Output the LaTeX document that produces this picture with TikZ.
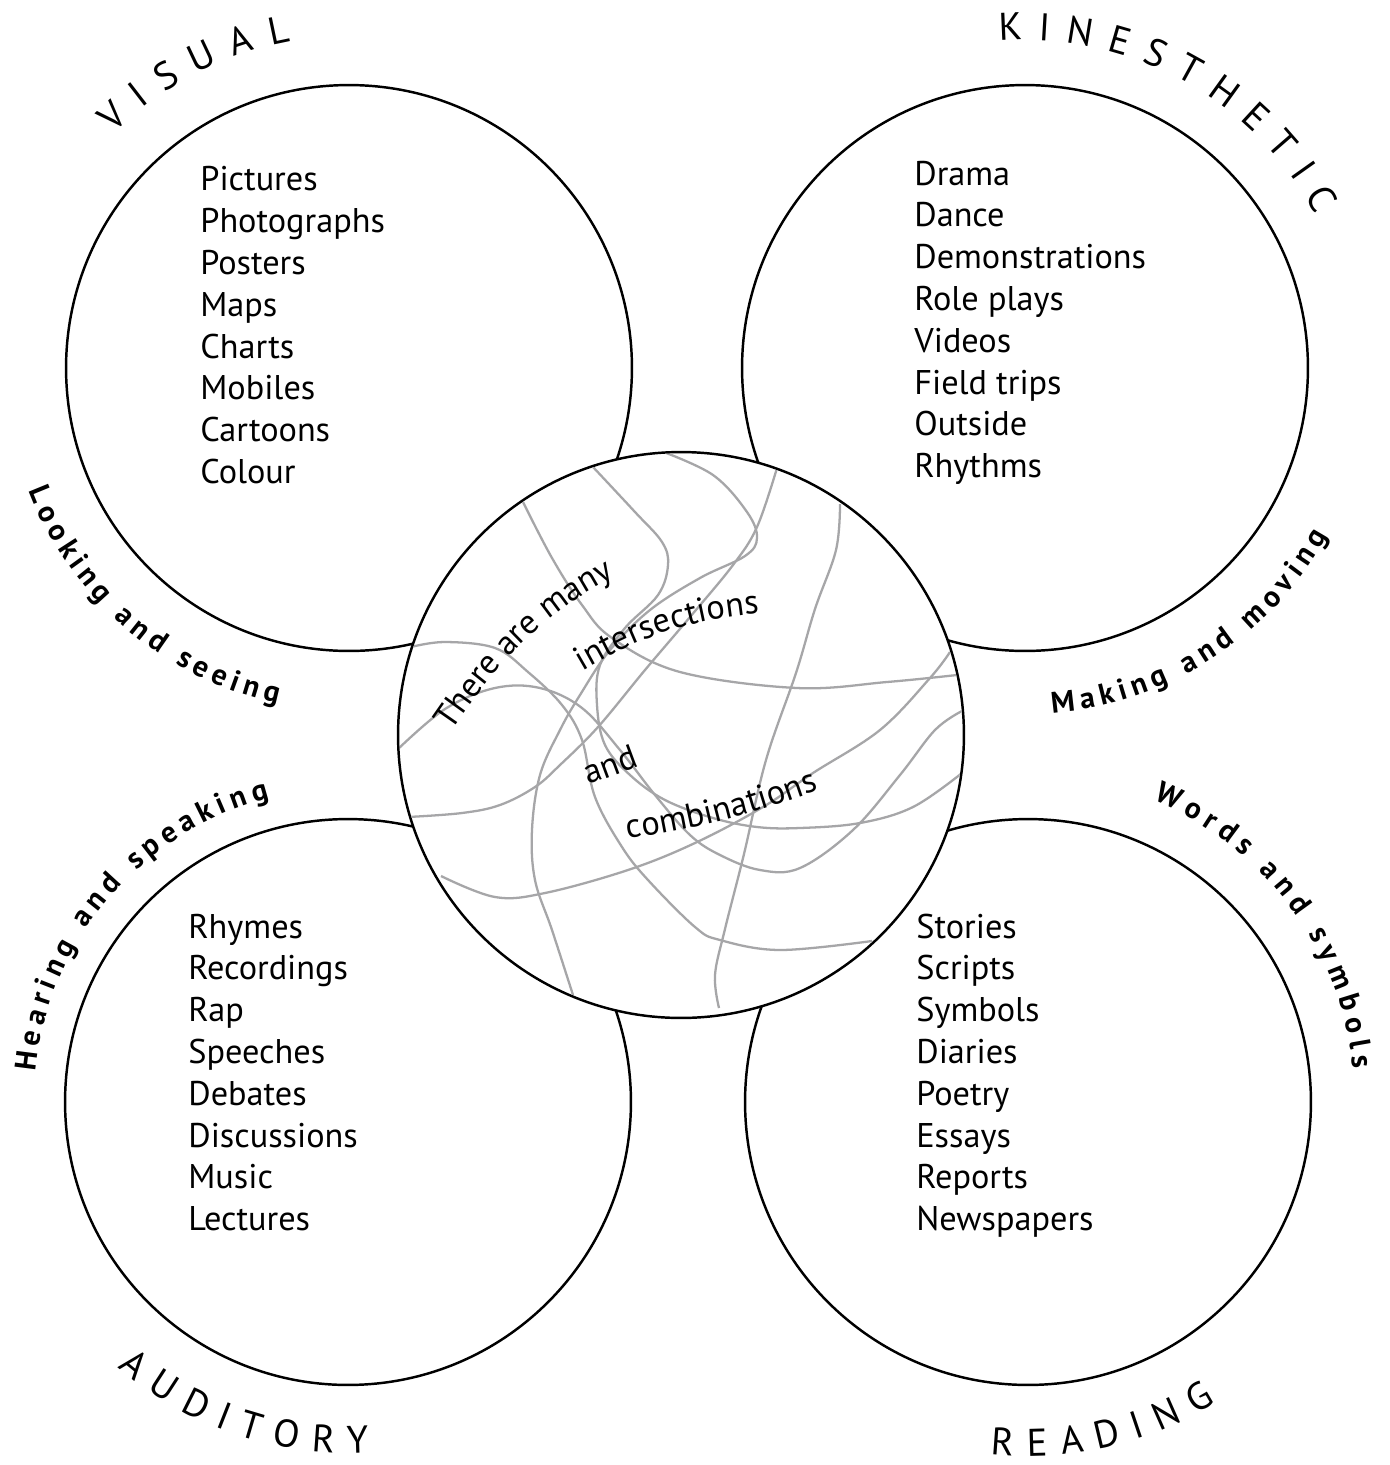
\documentclass[tikz,border=0pt]{standalone}
\usepackage{fontspec}
\setmainfont{PT Sans}
\usetikzlibrary{decorations.text}
\definecolor{wiregray}{RGB}{166,166,168}
\newcommand\ttlfnt{\fontsize{22}{26}\selectfont}
\newcommand\subfnt{\bfseries\fontsize{17}{20}\selectfont}
\newcommand\itemfnt{\fontsize{19.5}{23}\selectfont}
\tikzset{
  ring/.style={circle, draw, line width=1.4pt, minimum size=11.32cm, inner sep=0pt},
  item/.style={anchor=base west, inner sep=0pt, font=\itemfnt},
  wire/.style={draw=wiregray, line width=1.3pt},
  arctext/.style={decorate, decoration={text along path, text align=fit to path, text={#1}}},
  midtext/.style={decorate, decoration={text along path, text align=center, text={|\itemfnt|#1}}}
}

\begin{document}
\begin{tikzpicture}[x=0.02cm, y=0.02cm]
\useasboundingbox (0,0) rectangle (1390,-1465);
\node[ring] (vis) at (349,-368) {};
\node[ring] (kin) at (1025,-368) {};
\node[ring] (aud) at (348,-1102) {};
\node[ring] (rea) at (1028,-1102) {};
\node[ring, fill=white] (mid) at (681,-735) {};

\begin{scope}
\clip (mid.center) circle (281.5);
\draw[wire] plot[smooth, tension=0.6] coordinates {(523,-502) (552,-558) (582,-605) (612,-638) (680,-672) (797,-688) (887,-682) (957,-675)};
\draw[wire] plot[smooth, tension=0.6] coordinates {(593,-467) (635,-512) (662,-542) (668,-565) (658,-595) (625,-628) (600,-665) (597,-705) (605,-745) (630,-775) (665,-800) (713,-818) (757,-827) (800,-828) (860,-823) (913,-807) (962,-773)};
\draw[wire] plot[smooth, tension=0.6] coordinates {(661,-451) (713,-475) (747,-512) (757,-538) (745,-556) (700,-578) (650,-610) (610,-650) (580,-695) (560,-730) (540,-775) (532,-830) (535,-880) (552,-930) (573,-995)};
\draw[wire] plot[smooth, tension=0.6] coordinates {(777,-468) (757,-527) (733,-565) (690,-617) (645,-670) (598,-727) (560,-765) (535,-787) (500,-805) (462,-813) (408,-817)};
\draw[wire] plot[smooth, tension=0.6] coordinates {(840,-504) (836,-550) (815,-609) (796,-673) (766,-760) (744,-854) (725,-929) (715,-975) (719,-1008)};
\draw[wire] plot[smooth, tension=0.6] coordinates {(411,-647) (445,-642) (495,-648) (528,-672) (562,-705) (582,-740) (595,-797) (622,-847) (648,-880) (695,-927) (720,-940) (780,-950) (872,-941)};
\draw[wire] plot[smooth, tension=0.6] coordinates {(397,-750) (445,-709) (495,-688) (540,-688) (582,-708) (620,-750) (655,-795) (690,-835) (720,-855) (760,-870) (800,-868) (853,-830) (900,-775) (935,-730) (962,-711)};
\draw[wire] plot[smooth, tension=0.6] coordinates {(441,-876) (495,-897) (545,-893) (628,-870) (695,-843) (763,-807) (813,-773) (880,-730) (930,-678) (950,-652)};
\end{scope}

\foreach \t [count=\i] in {Pictures,Photographs,Posters,Maps,Charts,Mobiles,Cartoons,Colour}
  \node[item] (vis\i) at (200,{-149-41.8*\i}) {\t};
\foreach \t [count=\i] in {Drama,Dance,Demonstrations,Role plays,Videos,Field trips,Outside,Rhythms}
  \node[item] (kin\i) at (914,{-143.2-41.8*\i}) {\t};
\foreach \t [count=\i] in {Rhymes,Recordings,Rap,Speeches,Debates,Discussions,Music,Lectures}
  \node[item] (aud\i) at (188,{-896.2-41.8*\i}) {\t};
\foreach \t [count=\i] in {Stories,Scripts,Symbols,Diaries,Poetry,Essays,Reports,Newspapers}
  \node[item] (rea\i) at (916,{-896.2-41.8*\i}) {\t};

\path[arctext={|\ttlfnt|VISUAL}] ([shift={(135.2:332)}]vis.center) arc[start angle=135.2, end angle=100.1, radius=332];
\path[arctext={|\ttlfnt|KINESTHETIC}] ([shift={(94.5:328)}]kin.center) arc[start angle=94.5, end angle=27.8, radius=328];
\path[arctext={|\ttlfnt|AUDITORY}] ([shift={(229:351)}]aud.center) arc[start angle=229, end angle=273.5, radius=351];
\path[arctext={|\ttlfnt|READING}] ([shift={(264:354)}]rea.center) arc[start angle=264, end angle=302, radius=354];

\path[arctext={|\subfnt|Looking and seeing}] ([shift={(201:343)}]vis.center) arc[start angle=201, end angle=258, radius=343];
\path[arctext={|\subfnt|Hearing and speaking}] ([shift={(174.5:314)}]aud.center) arc[start angle=174.5, end angle=104.5, radius=314];
\path[arctext={|\subfnt|Making and moving}] ([shift={(274.5:346)}]kin.center) arc[start angle=274.5, end angle=331, radius=346];
\path[arctext={|\subfnt|Words and symbols}] ([shift={(67.5:327)}]rea.center) arc[start angle=67.5, end angle=5.8, radius=327];

\path[midtext={There are many}] (440,-748) to[out=56, in=205] (633,-568);
\path[midtext={intersections}] (563,-683) to[out=32, in=183] (782,-612);
\path[midtext={and}] (575,-790) -- (653,-761);
\path[midtext={combinations}] (613,-841) to[out=8, in=200] (833,-785);
\end{tikzpicture}
\end{document}
